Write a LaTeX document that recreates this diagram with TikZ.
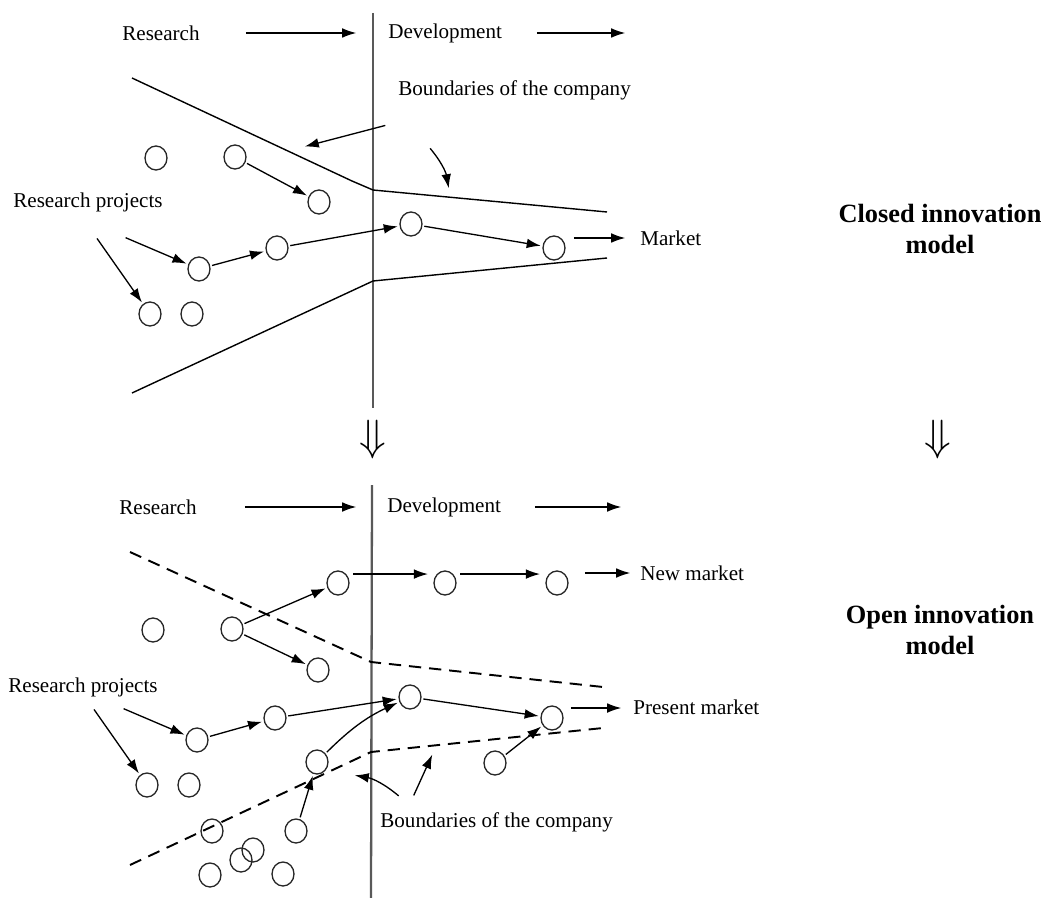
\documentclass[tikz,border=0pt]{standalone}
\usepackage{fontspec}
\setmainfont{Liberation Serif}
\usetikzlibrary{arrows.meta,shapes.geometric}

\tikzset{
	proj/.style={draw=black!85, ellipse, line width=0.75pt, minimum width=0.44cm, minimum height=0.48cm, inner sep=0pt},
	lbl/.style={inner sep=0pt, font=\fontsize{12}{14}\selectfont},
	title/.style={inner sep=0pt, align=center, font=\fontsize{15}{18}\selectfont\bfseries},
	dn/.style={inner sep=0pt, font=\fontsize{24}{24}\selectfont},
	arr/.style={-{Latex[length=8pt,width=5.5pt]}, line width=0.75pt, shorten <=1pt, shorten >=1pt},
	bound/.style={line width=0.8pt, line join=round},
	dbound/.style={line width=1.1pt, dash pattern=on 7pt off 4.5pt},
	axis/.style={draw=black!65, line width=1.3pt}
}

\begin{document}
\begin{tikzpicture}[x=0.02cm, y=-0.02cm]
	\useasboundingbox (0,0) rectangle (1047,898);

	% closed innovation
	\node [lbl] (res1) at (161,33) {Research};
	\node [lbl, anchor=west] (dev1) at (388,33) {Development};
	\coordinate (r1a) at (244,33);
	\coordinate (r1b) at (358,33);
	\coordinate (d1a) at (535,33);
	\coordinate (d1b) at (627,33);
	\draw [arr] (r1a) -- (r1b);
	\draw [arr] (d1a) -- (d1b);
	\draw [axis] (373,13) -- (373,408);
	\draw [bound] (132,78) -- (352,181) -- (373,190) -- (607,212);
	\draw [bound] (132,393) -- (373,281) -- (607,258);

	\node [lbl, anchor=west] (bnd1) at (398,90) {Boundaries of the company};
	\coordinate (b1a) at (387,125);
	\coordinate (b1b) at (303,147);
	\coordinate (b1c) at (429,147);
	\coordinate (b1d) at (449,190);
	\draw [arr] (b1a) -- (b1b);
	\draw [arr] (b1c) to [bend left=15] (b1d);

	\node [proj] (c1) at (156,158) {};
	\node [proj] (c2) at (235,157) {};
	\node [proj] (c3) at (319,202) {};
	\node [proj] (c4) at (199,269) {};
	\node [proj] (c5) at (277,248) {};
	\node [proj] (c6) at (411,224) {};
	\node [proj] (c7) at (554,248) {};
	\node [proj] (c8) at (150,314) {};
	\node [proj] (c9) at (192,314) {};

	\node [lbl, anchor=west] (rp1) at (13,202) {Research projects};
	\coordinate (p1a) at (96,237);
	\coordinate (p1b) at (124,237);
	\draw [arr] (p1a) -- (c8);
	\draw [arr] (p1b) -- (c4);
	\draw [arr] (c2) -- (c3);
	\draw [arr] (c4) -- (c5);
	\draw [arr] (c5) -- (c6);
	\draw [arr] (c6) -- (c7);

	\node [lbl, anchor=west] (mkt) at (640,238) {Market};
	\coordinate (m1a) at (572,238);
	\coordinate (m1b) at (627,238);
	\draw [arr] (m1a) -- (m1b);

	\node [title] (closed) at (940,229) {Closed innovation\\model};

	\node [dn] (dn1) at (373,440) {$\Downarrow$};
	\node [dn] (dn2) at (938,440) {$\Downarrow$};

	% open innovation
	\node [lbl] (res2) at (158,507) {Research};
	\node [lbl, anchor=west] (dev2) at (387,507) {Development};
	\coordinate (r2a) at (243,507);
	\coordinate (r2b) at (358,507);
	\coordinate (d2a) at (533,507);
	\coordinate (d2b) at (623,507);
	\draw [arr] (r2a) -- (r2b);
	\draw [arr] (d2a) -- (d2b);
	\draw [axis] (372,485) -- (371,898);
	\draw [dbound] (130,552) -- (371,662) -- (603,687);
	\draw [dbound] (130,865) -- (371,752) -- (603,728);

	\node [proj] (o1) at (153,630) {};
	\node [proj] (o2) at (232,629) {};
	\node [proj] (o3) at (338,583) {};
	\node [proj] (o4) at (318,670) {};
	\node [proj] (n1) at (445,583) {};
	\node [proj] (n2) at (557,583) {};
	\node [proj] (o5) at (197,740) {};
	\node [proj] (o6) at (275,718) {};
	\node [proj] (o7) at (410,697) {};
	\node [proj] (o8) at (552,718) {};
	\node [proj] (o9) at (147,785) {};
	\node [proj] (o10) at (189,785) {};
	\node [proj] (o11) at (317,762) {};
	\node [proj] (o12) at (495,763) {};
	\node [proj] (o13) at (212,831) {};
	\node [proj] (o14) at (296,831) {};
	\node [proj] (o15) at (253,850) {};
	\node [proj] (o16) at (241,860) {};
	\node [proj] (o17) at (210,875) {};
	\node [proj] (o18) at (283,874) {};

	\node [lbl, anchor=west] (nmkt) at (640,573) {New market};
	\node [lbl, anchor=west] (pmkt) at (633,707) {Present market};
	\node [lbl, anchor=west] (rp2) at (8,687) {Research projects};
	\node [lbl, anchor=west] (bnd2) at (380,822) {Boundaries of the company};

	\draw [arr] (o2) -- (o3);
	\draw [arr] (o2) -- (o4);
	\draw [arr, shorten <=4pt, shorten >=5pt] (o3.north east) -- (n1.north west);
	\draw [arr, shorten <=4pt, shorten >=5pt] (n1.north east) -- (n2.north west);
	\coordinate (n2a) at (583,573);
	\coordinate (n2b) at (632,573);
	\draw [arr] (n2a) -- (n2b);

	\coordinate (p2a) at (93,708);
	\coordinate (p2b) at (122,708);
	\draw [arr] (p2a) -- (o9);
	\draw [arr] (p2b) -- (o5);
	\draw [arr] (o5) -- (o6);
	\draw [arr] (o6) -- (o7);
	\draw [arr] (o7) -- (o8);
	\draw [arr] (o11) to [bend left=10] (o7);
	\draw [arr] (o14) -- (o11);
	\draw [arr] (o12) -- (o8);
	\coordinate (p3a) at (569,708);
	\coordinate (p3b) at (623,708);
	\draw [arr] (p3a) -- (p3b);

	\coordinate (b2a) at (400,797);
	\coordinate (b2b) at (353,775);
	\coordinate (b2c) at (413,797);
	\coordinate (b2d) at (433,753);
	\draw [arr] (b2a) to [bend right=15] (b2b);
	\draw [arr] (b2c) -- (b2d);

	\node [title] (open) at (940,630) {Open innovation\\model};
\end{tikzpicture}
\end{document}
